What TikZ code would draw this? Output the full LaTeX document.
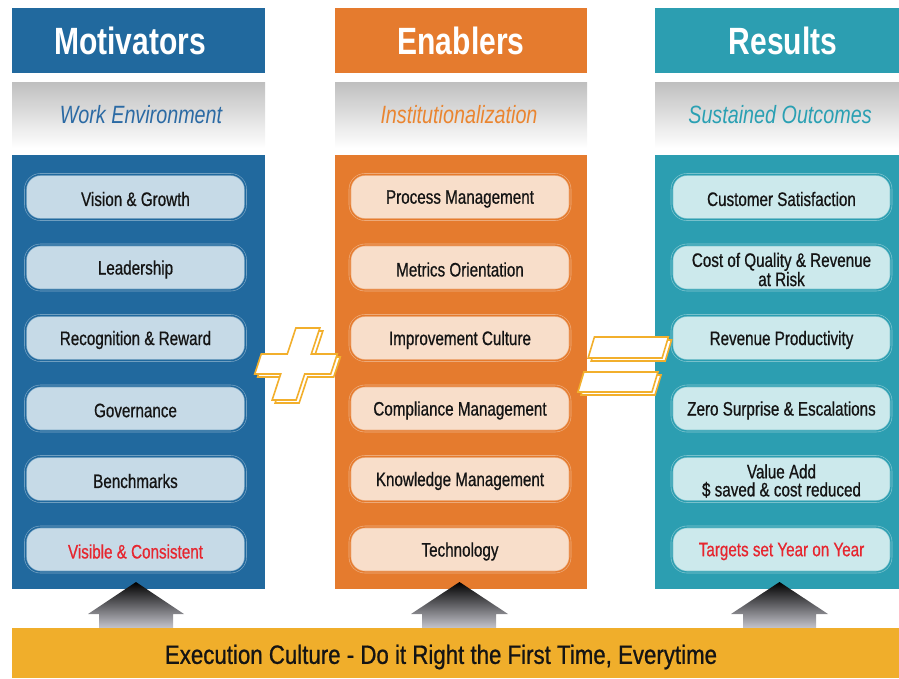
\documentclass[tikz,border=0pt]{standalone}
\usepackage{fontspec}
\setmainfont{Liberation Sans}[FakeStretch=0.79]
\newfontfamily\pillfont{Liberation Sans}[FakeStretch=0.78, FakeBold=0.7]
\newfontfamily\basefont{Liberation Sans}[FakeStretch=0.84, FakeBold=0.8]
\definecolor{motblue}{HTML}{21699E}
\definecolor{enaorange}{HTML}{E57B2E}
\definecolor{resteal}{HTML}{2C9EB1}
\definecolor{motfill}{HTML}{C6DAE7}
\definecolor{enafill}{HTML}{F8DECA}
\definecolor{resfill}{HTML}{CCE9EC}
\definecolor{motsub}{HTML}{2B6AA4}
\definecolor{enasub}{HTML}{EA8530}
\definecolor{ressub}{HTML}{2AA0B3}
\definecolor{alertred}{HTML}{E6262F}
\definecolor{baryellow}{HTML}{F0AE2B}
\definecolor{signorange}{HTML}{F2AF2C}
\definecolor{arrowgray}{HTML}{C4C4CC}
\definecolor{inktext}{HTML}{141414}
\tikzset{
  headtext/.style={text=white, font=\bfseries\fontsize{38}{40}\selectfont, inner sep=0},
  subtext/.style={font=\itshape\fontsize{25}{28}\selectfont, inner sep=0},
  pillbase/.style={rounded corners=15, minimum height=45, inner sep=0,
    line width=0.6, double distance=1.4},
  motpill/.style={pillbase, minimum width=220, fill=motfill, draw=motfill!55!motblue, double=motblue},
  enapill/.style={pillbase, minimum width=220, fill=enafill, draw=enafill!55!enaorange, double=enaorange},
  respill/.style={pillbase, minimum width=219, fill=resfill, draw=resfill!55!resteal, double=resteal},
  pilltext/.style={inner sep=0, align=center, text=inktext,
    font=\pillfont\fontsize{19.5}{18}\selectfont},
  alert/.style={text=alertred},
  upshaft/.style={top color=black, bottom color=arrowgray},
  signshape/.style={draw=signorange, fill=white, line width=1.6, line join=miter},
}
\begin{document}
\begin{tikzpicture}[x=1pt, y=-1pt]
\useasboundingbox (0,0) rectangle (899,678);

% column headers
\fill[motblue]   (12,8)  rectangle (265,73);
\fill[enaorange] (335,8) rectangle (587,73);
\fill[resteal]   (655,8) rectangle (899,73);
\node[headtext] (hmot) at (130,41) {Motivators};
\node[headtext] (hena) at (461,41) {Enablers};
\node[headtext] (hres) at (783,41) {Results};

% grey sub-header bands
\shade[top color=gray!50, bottom color=white] (12,82)  rectangle (265,148);
\shade[top color=gray!50, bottom color=white] (335,82) rectangle (587,148);
\shade[top color=gray!50, bottom color=white] (655,82) rectangle (899,148);
\node[subtext, text=motsub] (smot) at (141,115) {Work Environment};
\node[subtext, text=enasub] (sena) at (459,115) {Institutionalization};
\node[subtext, text=ressub] (sres) at (780,115) {Sustained Outcomes};

% column bodies
\fill[motblue]   (12,155)  rectangle (265,589);
\fill[enaorange] (335,155) rectangle (587,589);
\fill[resteal]   (655,155) rectangle (899,589);

% motivators
\foreach \i/\y/\t/\c in {1/197/{Vision \& Growth}/inktext, 2/267.5/{Leadership}/inktext,
    3/338/{Recognition \& Reward}/inktext, 4/408.5/{Governance}/inktext,
    5/479/{Benchmarks}/inktext, 6/549.5/{Visible \& Consistent}/alertred} {
  \node[motpill] (m\i) at (135.5,\y) {};
  \node[pilltext, text=\c] (m\i t) at ([yshift=-2pt]m\i.center) {\t};
}

% enablers
\foreach \i/\y/\t in {1/197/{Process Management}, 2/267.5/{Metrics Orientation},
    3/338/{Improvement Culture}, 4/408.5/{Compliance Management},
    5/479/{Knowledge Management}, 6/549.5/{Technology}} {
  \node[enapill] (e\i) at (460,\y) {};
  \node[pilltext] (e\i t) at ([yshift=-2pt]e\i.center) {\t};
}

% results
\foreach \i/\y/\t/\c in {1/197/{Customer Satisfaction}/inktext,
    2/267.5/{Cost of Quality \& Revenue\\at Risk}/inktext,
    3/338/{Revenue Productivity}/inktext, 4/408.5/{Zero Surprise \& Escalations}/inktext,
    5/479/{Value Add\\\$ saved \& cost reduced}/inktext,
    6/549.5/{Targets set Year on Year}/alertred} {
  \node[respill] (r\i) at (781.5,\y) {};
  \node[pilltext, text=\c] (r\i t) at ([yshift=-2pt]r\i.center) {\t};
}

% plus sign with its offset shadow
\begin{scope}[shift={(296,364)}, xslant=0.33]
  \foreach \dx/\dy in {4/3, 0/0}
    \draw[signshape, shift={(\dx,\dy)}]
      (-12,-36) -- (12,-36) -- (12,-10) -- (38,-10) -- (38,10) -- (12,10)
      -- (12,36) -- (-12,36) -- (-12,10) -- (-38,10) -- (-38,-10) -- (-12,-10) -- cycle;
\end{scope}

% equals sign with its offset shadow
\begin{scope}[shift={(623,365)}, xslant=0.3]
  \foreach \dx/\dy in {4/3, 0/0} {
    \draw[signshape, shift={(\dx,\dy)}] (-37,-28) rectangle (37,-7);
    \draw[signshape, shift={(\dx,\dy)}] (-37,7) rectangle (37,27);
  }
\end{scope}

% upward block arrows feeding each column
\shade[upshaft] (136,582) -- (184,614) -- (173,614) -- (173,628) -- (99,628) -- (99,614) -- (88,614) -- cycle;
\shade[upshaft] (459.5,582) -- (508,614) -- (496,614) -- (496,628) -- (422,628) -- (422,614) -- (411,614) -- cycle;
\shade[upshaft] (779.5,582) -- (828,614) -- (816,614) -- (816,628) -- (743,628) -- (743,614) -- (731,614) -- cycle;

% foundation bar
\fill[baryellow] (12,628) rectangle (899,678);
\node[text=inktext, font=\basefont\fontsize{26.5}{28}\selectfont, inner sep=0] (base) at (441,657)
  {Execution Culture - Do it Right the First Time, Everytime};
\end{tikzpicture}
\end{document}
